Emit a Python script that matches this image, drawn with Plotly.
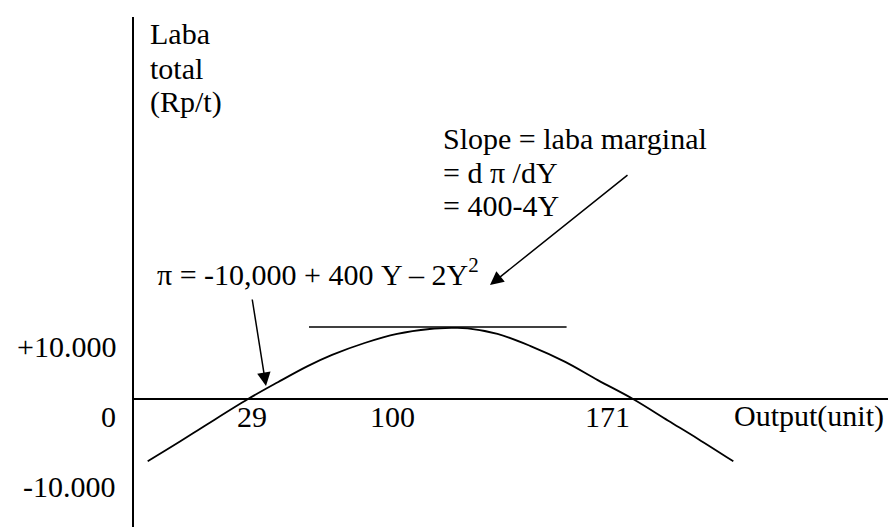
import plotly.graph_objects as go

# ---- data ----
output_units = [-8, 3, 14, 29, 40, 51, 60, 72, 84, 96, 104, 110, 121, 133, 146, 158, 171, 184, 195, 208]
total_profit = [-8900, -6300, -3600, 0, 2400, 4700, 6300, 8000, 9300, 10000, 10150, 10100,
                9300, 7600, 5300, 2700, 0, -3100, -5700, -8900]
tangent_x = [51.5, 146.5]
tangent_y = [10290, 10290]

y_tick_labels = ["+10.000", "0", "-10.000"]
x_tick_labels = ["29", "100", "171"]
y_title_lines = ["Laba", "total", "(Rp/t)"]
slope_lines = ["Slope = laba marginal", "= d \u03c0 /dY", "= 400-4Y"]
profit_formula = "\u03c0 = -10,000 + 400 Y \u2013 2Y<sup>2</sup>"
x_title = "Output(unit)"

# ---- layout helpers (pixel -> paper) ----
W, H = 896, 527
L, T = 126, 9
FONT = "Liberation Serif, Times New Roman, serif"
FS = 30


def pxx(px):
    return (px - L) / (W - L)


def pxy(py):
    return (H - py) / (H - T)


fig = go.Figure()
fig.add_trace(go.Scatter(x=output_units, y=total_profit, mode="lines",
                         line=dict(color="black", width=1.8, shape="spline", smoothing=1.0),
                         hoverinfo="skip", showlegend=False))
fig.add_trace(go.Scatter(x=tangent_x, y=tangent_y, mode="lines",
                         line=dict(color="black", width=1.6),
                         hoverinfo="skip", showlegend=False))

annotations = []


def text(s, x, anchor, baseline):
    annotations.append(dict(text=s, xref="paper", yref="paper", x=pxx(x), y=pxy(baseline + 7),
                            xanchor=anchor, yanchor="bottom", showarrow=False,
                            font=dict(family=FONT, size=FS, color="black")))


for s, b in zip(y_title_lines, [37, 72, 106]):
    text(s, 140, "left", b)
for s, b in zip(slope_lines, [142, 176, 209]):
    text(s, 433, "left", b)
text(profit_formula, 147, "left", 278)
for s, b in zip(y_tick_labels, [350, 420, 490]):
    text(s, 110, "right", b)
for s, cx in zip(x_tick_labels, [244, 384, 599]):
    text(s, cx, "center", 420)
text(x_title, 724, "left", 420)


def arrow(tip, tail):
    annotations.append(dict(text="", xref="paper", yref="paper", x=pxx(tip[0]), y=pxy(tip[1]),
                            ax=tail[0] - tip[0], ay=tail[1] - tip[1], showarrow=True,
                            arrowhead=2, arrowsize=1.8, arrowwidth=1.5, arrowcolor="black",
                            standoff=0))


arrow((258, 378), (244, 290))
arrow((482, 277), (621, 166))

fig.update_layout(
    width=W, height=H,
    margin=dict(l=L, r=0, t=T, b=0),
    paper_bgcolor="white", plot_bgcolor="white",
    annotations=annotations,
    xaxis=dict(range=[-13.05, 270.95], showgrid=False, showticklabels=False, ticks="",
               zeroline=False, showline=False, fixedrange=True),
    yaxis=dict(range=[-19429, 54571], showgrid=False, showticklabels=False, ticks="",
               zeroline=True, zerolinecolor="black", zerolinewidth=2,
               showline=True, linecolor="black", linewidth=2, fixedrange=True),
)

fig.write_html("out.html")
